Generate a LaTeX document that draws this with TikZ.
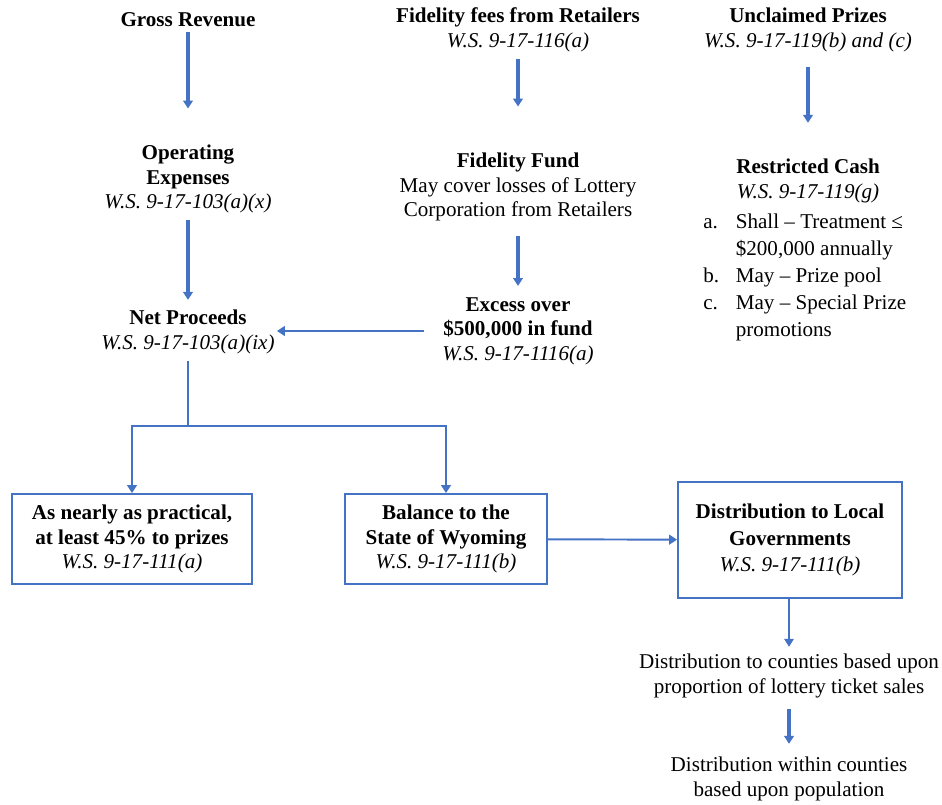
\documentclass[tikz,border=0pt]{standalone}
\usepackage{fontspec}
\setmainfont{Liberation Serif}
\usepackage{xcolor}
\usetikzlibrary{positioning, arrows.meta, calc}
\definecolor{flowblue}{HTML}{4472C4}

\begin{document}
\begin{tikzpicture}[x=0.02cm, y=-0.02cm,
  lbl/.style={align=center, inner sep=0pt, font=\fontsize{12}{14}\selectfont},
  boxed/.style={lbl, draw=flowblue, line width=1.1pt, minimum height=1.8cm},
  flow/.style={-{Triangle[length=4.5pt,width=5.5pt]}, draw=flowblue, line width=1.8pt},
  feed/.style={flow, line width=1.1pt},
  slimflow/.style={flow, line width=0.6pt}]
  \useasboundingbox (0,0) rectangle (942,804);

  % Left column: revenue to proceeds
  \node[lbl] (gross) at (188,20) {\textbf{Gross Revenue}};
  \node[lbl] (opex) at (188,179) {\textbf{Operating}\\\textbf{Expenses}\\\textit{W.S. 9-17-103(a)(x)}};
  \node[lbl] (net) at (188,332) {\textbf{Net Proceeds}\\\textit{W.S. 9-17-103(a)(ix)}};

  % Middle column: fidelity fund
  \node[lbl] (fees) at (518,30) {\textbf{Fidelity fees from Retailers}\\\textit{W.S. 9-17-116(a)}};
  \node[lbl] (fund) at (518,187) {\textbf{Fidelity Fund}\\May cover losses of Lottery\\Corporation from Retailers};
  \node[lbl] (excess) at (518,331) {\textbf{Excess over}\\\textbf{\$500,000 in fund}\\\textit{W.S. 9-17-1116(a)}};

  % Right column: unclaimed prizes
  \node[lbl] (unclaimed) at (808,30) {\textbf{Unclaimed Prizes}\\\textit{W.S. 9-17-119(b) and (c)}};
  \node[lbl] (restricted) at (808,181) {\textbf{Restricted Cash}\\\textit{W.S. 9-17-119(g)}};
  \node[lbl, anchor=north west] (uses) at (703,209) {\def\arraystretch{1.1}%
    \begin{tabular}{@{}l@{\hspace{9.5pt}}l@{}}
      a. & Shall -- Treatment ≤\\
         & \$200,000 annually\\
      b. & May -- Prize pool\\
      c. & May -- Special Prize\\
         & promotions
    \end{tabular}};

  % Boxes
  \node[boxed, minimum width=4.8cm] (prizes) at (132,539) {\textbf{As nearly as practical,}\\\textbf{at least 45\% to prizes}\\\textit{W.S. 9-17-111(a)}};
  \node[boxed, minimum width=4.04cm] (state) at (446,539) {\textbf{Balance to the}\\\textbf{State of Wyoming}\\\textit{W.S. 9-17-111(b)}};
  \node[boxed, minimum width=4.48cm, minimum height=2.32cm, font=\fontsize{12}{15}\selectfont] (govt) at (790,540) {\textbf{Distribution to Local}\\\textbf{Governments}\\\textit{W.S. 9-17-111(b)}};

  % Bottom right
  \node[lbl] (counties) at (789,676) {Distribution to counties based upon\\proportion of lottery ticket sales};
  \node[lbl] (within) at (789,779) {Distribution within counties\\based upon population};

  % Connectors
  \draw[flow, shorten <=0.1cm, shorten >=0.72cm] (gross) -- (opex);
  \draw[flow, shorten <=0.12cm, shorten >=0.2cm] (opex) -- (net);
  \draw[flow, shorten <=0.14cm, shorten >=0.92cm] (fees) -- (fund);
  \draw[flow, shorten <=0.28cm, shorten >=0.22cm] (fund) -- (excess);
  \draw[flow, shorten <=0.3cm, shorten >=0.72cm] (unclaimed) -- (restricted);
  \draw[feed, shorten <=0.36cm, shorten >=0.04cm] (excess.west) -- (net.east |- excess.west);

  \coordinate (split) at (188,426);
  \draw[feed, -] ([yshift=-0.14cm]net.south) -- (split);
  \draw[feed] (split) -| (prizes);
  \draw[feed] (split) -| (state);
  \draw[feed] (state) -- (govt);
  \draw[slimflow, shorten >=0.14cm] (govt.south -| counties) -- (counties);
  \draw[flow, shorten <=0.22cm, shorten >=0.26cm] (counties) -- (within);
\end{tikzpicture}
\end{document}
